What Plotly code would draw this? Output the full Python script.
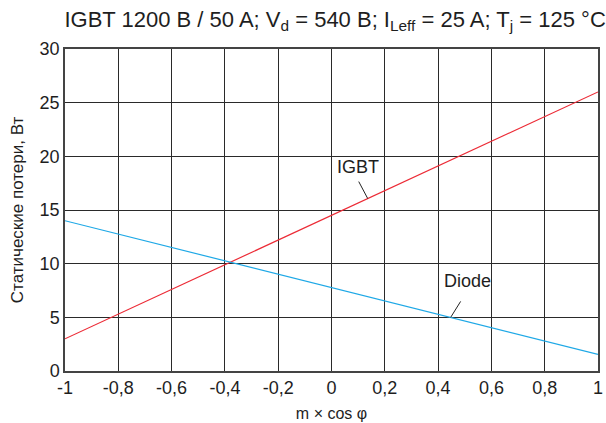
import numpy as np
import plotly.graph_objects as go

x_vals = [-1, 1]
igbt_vals = [3.0, 26.0]
diode_vals = [14.0, 1.55]
x_ticks = [-1, -0.8, -0.6, -0.4, -0.2, 0, 0.2, 0.4, 0.6, 0.8, 1]
x_tick_labels = ["-1", "-0,8", "-0,6", "-0,4", "-0,2", "0", "0,2", "0,4", "0,6", "0,8", "1"]
y_ticks = [0, 5, 10, 15, 20, 25, 30]

FONT = "Liberation Sans, Arial, sans-serif"
TXT = "#1e1e1e"

fig = go.Figure()
fig.add_trace(go.Scatter(x=x_vals, y=igbt_vals, mode="lines",
                         line=dict(color="#ec2b36", width=1.2), name="IGBT"))
fig.add_trace(go.Scatter(x=x_vals, y=diode_vals, mode="lines",
                         line=dict(color="#1ea8e6", width=1.2), name="Diode"))

# label leaders: (series name, x of anchor on curve, line end offset px, text offset px)
labels = [
    ("IGBT", 0.136, igbt_vals, (-9, 17), (-10, 32)),
    ("Diode", 0.447, diode_vals, (10, 16), (17, 36)),
]
for name, ax_, vals, (lx, ly), (tx, ty) in labels:
    ay_ = float(np.interp(ax_, x_vals, vals))
    fig.add_shape(type="line", xref="x", yref="y", xsizemode="pixel", ysizemode="pixel",
                  xanchor=ax_, yanchor=ay_, x0=0, y0=0, x1=lx, y1=ly,
                  line=dict(color="#222", width=1))
    fig.add_annotation(x=ax_, y=ay_, text=name, showarrow=False, xshift=tx, yshift=ty,
                       font=dict(size=18, color=TXT, family=FONT))

fig.update_layout(
    width=606, height=423,
    margin=dict(l=65, r=3, t=49, b=52),
    paper_bgcolor="white", plot_bgcolor="white",
    showlegend=False,
    font=dict(family=FONT, color=TXT),
    title=dict(text="IGBT 1200 B / 50 A; V<sub>d</sub> = 540 B; I<sub>Leff</sub> = 25 A; T<sub>j</sub> = 125 °C",
               x=0.553, xanchor="center", y=0.955, yanchor="middle",
               font=dict(size=22, family=FONT, color=TXT)),
    xaxis=dict(range=[-1, 1], tickvals=x_ticks, ticktext=x_tick_labels,
               showgrid=True, gridcolor="#2a2a2a", gridwidth=1.1,
               showline=True, linecolor="#444", linewidth=1.5, mirror=True,
               zeroline=False, ticks="", ticklabeloverflow="allow",
               tickfont=dict(size=18, family=FONT, color=TXT),
               title=dict(text="m × cos φ", font=dict(size=16, family=FONT, color=TXT), standoff=10)),
    yaxis=dict(range=[0, 30], tickvals=y_ticks,
               showgrid=True, gridcolor="#2a2a2a", gridwidth=1.1,
               showline=True, linecolor="#444", linewidth=1.5, mirror=True,
               zeroline=False, ticks="", ticklabeloverflow="allow",
               tickfont=dict(size=18, family=FONT, color=TXT),
               title=dict(text="Статические потери, Вт", font=dict(size=17, family=FONT, color=TXT), standoff=12)),
)

fig.write_html("out.html")
